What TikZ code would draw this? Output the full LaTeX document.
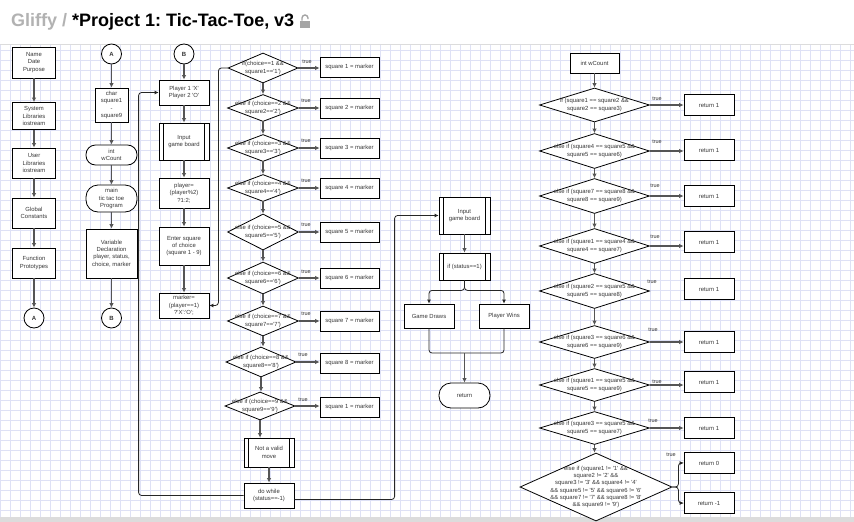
\documentclass[tikz,border=0pt]{standalone}
\usepackage{fontspec}
\newfontfamily\gf{Liberation Sans}
\usetikzlibrary{shapes.geometric,arrows.meta,calc}
\definecolor{gridc}{RGB}{222,225,245}
\definecolor{txt}{RGB}{55,55,55}
\definecolor{arrc}{RGB}{85,85,85}
\definecolor{hdrgray}{RGB}{178,178,178}
\definecolor{sepc}{RGB}{220,220,220}
\definecolor{lockc}{RGB}{165,165,165}
\tikzset{
  base/.style={font=\gf\fontsize{5.9}{7.3}\selectfont, text=txt, inner sep=0pt, align=center},
  bx/.style={base, draw=black, line width=0.8pt, fill=white, rectangle},
  proc/.style={bx, path picture={\draw[line width=0.8pt]
      ([xshift=4.5pt]path picture bounding box.north west) -- ([xshift=4.5pt]path picture bounding box.south west)
      ([xshift=-4.5pt]path picture bounding box.north east) -- ([xshift=-4.5pt]path picture bounding box.south east);}},
  term/.style={bx, rounded corners=9.5pt},
  circ/.style={circle, draw=black, line width=0.8pt, fill=white, minimum size=20pt, inner sep=0pt, font=\gf\bfseries\fontsize{6}{7}\selectfont, text=txt},
  dia/.style={diamond, draw=black, line width=0.8pt, fill=white, inner sep=0pt},
  dtext/.style={base},
  tl/.style={font=\gf\fontsize{5.5}{6.5}\selectfont, text=txt, inner sep=0pt},
  arr/.style={draw=arrc, line width=1.6pt, -{Latex[length=4.5pt,width=4.5pt]}},
  lp/.style={draw=black!85, line width=0.8pt, rounded corners=3pt, -{Latex[length=4pt,width=4pt]}},
}
\frenchspacing
\begin{document}
\begin{tikzpicture}[x=1pt,y=-1pt]
\useasboundingbox (0,0) rectangle (854,522);
\fill[white] (0,0) rectangle (854,522);
% grid
\foreach \gx in {0,10,...,850} \draw[gridc, line width=0.5pt] (\gx,45) -- (\gx,517);
\foreach \gy in {50,60,...,510} \draw[gridc, line width=0.5pt] (0,\gy) -- (854,\gy);
\draw[sepc, line width=1pt] (0,44) -- (854,44);
\fill[sepc] (0,517) rectangle (854,522);
% header
\node[anchor=base west, font=\gf\bfseries\fontsize{18}{20}\selectfont, text=black, inner sep=0pt] (title) at (11,27) {\textcolor{hdrgray}{Gliffy /} *Project 1: Tic-Tac-Toe, v3};
\fill[lockc] (300,20.5) rectangle (310,28);
\draw[lockc, line width=1.4pt] (302,20.5) -- (302,18) arc[start angle=180, end angle=0, radius=3pt] -- (308,19);

% ---------- column 1
\node[bx, minimum width=43pt, minimum height=31pt] (L1) at (34,62.5) {Name\\Date\\Purpose};
\node[bx, minimum width=43pt, minimum height=27pt] (L2) at (34,116) {System\\Libraries\\iostream};
\node[bx, minimum width=43pt, minimum height=30pt] (L3) at (34,163) {User\\Libraries\\iostream};
\node[bx, minimum width=43pt, minimum height=30pt] (L4) at (34,213) {Global\\Constants};
\node[bx, minimum width=43pt, minimum height=30pt] (L5) at (34,263) {Function\\Prototypes};
\node[circ] (A1) at (34,318) {A};
\draw[arr] (L1) -- (L2);
\draw[arr] (L2) -- (L3);
\draw[arr] (L3) -- (L4);
\draw[arr] (L4) -- (L5);
\draw[arr] (L5) -- (A1);

% ---------- column 2
\node[circ] (A2) at (111.5,54) {A};
\node[bx, minimum width=33pt, minimum height=34pt] (C1) at (111.5,105) {char\\square1\\-\\square9};
\node[term, minimum width=51pt, minimum height=20pt] (C2) at (111.5,155) {int\\wCount};
\node[term, rounded corners=12pt, minimum width=51pt, minimum height=27pt] (C3) at (111.5,198.5) {main\\tic tac toe\\Program};
\node[bx, minimum width=51pt, minimum height=49pt] (C4) at (111.5,253.5) {Variable\\Declaration\\player, status,\\choice, marker};
\node[circ] (B1) at (111.5,318) {B};
\draw[arr] (A2) -- (C1);
\draw[arr] (C1) -- (C2);
\draw[arr] (C2) -- (C3);
\draw[arr] (C3) -- (C4);
\draw[arr] (C4) -- (B1);

% ---------- column 3
\node[circ] (B2) at (184,54) {B};
\node[bx, minimum width=50pt, minimum height=25pt] (P1) at (184,92.5) {Player 1 'X'\\Player 2 'O'};
\node[proc, minimum width=50pt, minimum height=37pt] (P2) at (184,141.5) {Input\\game board};
\node[bx, minimum width=50pt, minimum height=30pt] (P3) at (184,193) {player=\\(player\%2)\\?1:2;};
\node[bx, minimum width=50pt, minimum height=38pt] (P4) at (184,246) {Enter square\\of choice\\(square 1 - 9)};
\node[bx, minimum width=50pt, minimum height=25pt] (P5) at (184,305.5) {marker=\\(player==1)\\?'X':'O';};
\draw[arr] (B2) -- (P1);
\draw[arr] (P1) -- (P2);
\draw[arr] (P2) -- (P3);
\draw[arr] (P3) -- (P4);
\draw[arr] (P4) -- (P5);

% ---------- decisions column
\node[dia, minimum width=70pt, minimum height=30pt] (D1) at (263,68) {};
\node[dia, minimum width=71pt, minimum height=27pt] (D2) at (263,108) {};
\node[dia, minimum width=71pt, minimum height=27pt] (D3) at (263,148) {};
\node[dia, minimum width=71pt, minimum height=27pt] (D4) at (263,188) {};
\node[dia, minimum width=71pt, minimum height=36pt] (D5) at (263,232) {};
\node[dia, minimum width=71pt, minimum height=32pt] (D6) at (263,278) {};
\node[dia, minimum width=71pt, minimum height=30pt] (D7) at (263,321) {};
\node[dia, minimum width=70pt, minimum height=30pt] (D8) at (261,362) {};
\node[dia, minimum width=70pt, minimum height=28pt] (D9) at (260,406) {};
\node[dtext] (D1t) at (D1.center) {if(choice==1 \&\&\\square1=='1')};
\node[dtext] (D2t) at (D2.center) {else if (choice==2 \&\&\\square2=='2')};
\node[dtext] (D3t) at (D3.center) {else if (choice==3 \&\&\\square3=='3')};
\node[dtext] (D4t) at (D4.center) {else if (choice==4 \&\&\\square4=='4')};
\node[dtext] (D5t) at (D5.center) {else if (choice==5 \&\&\\square5=='5')};
\node[dtext] (D6t) at (D6.center) {else if (choice==6 \&\&\\square6=='6')};
\node[dtext] (D7t) at (D7.center) {else if (choice==7 \&\&\\square7=='7')};
\node[dtext] (D8t) at (D8.center) {else if (choice==8 \&\&\\square8=='8')};
\node[dtext] (D9t) at (D9.center) {else if (choice==9 \&\&\\square9=='9')};

\node[bx, minimum width=59pt, minimum height=20pt] (S1) at (349.5,67) {square 1 = marker};
\node[bx, minimum width=59pt, minimum height=20pt] (S2) at (349.5,108) {square 2 = marker};
\node[bx, minimum width=59pt, minimum height=20pt] (S3) at (349.5,148) {square 3 = marker};
\node[bx, minimum width=59pt, minimum height=20pt] (S4) at (349.5,188) {square 4 = marker};
\node[bx, minimum width=59pt, minimum height=20pt] (S5) at (349.5,232) {square 5 = marker};
\node[bx, minimum width=59pt, minimum height=20pt] (S6) at (349.5,278) {square 6 = marker};
\node[bx, minimum width=59pt, minimum height=20pt] (S7) at (349.5,321) {square 7 = marker};
\node[bx, minimum width=59pt, minimum height=20pt] (S8) at (349.5,363) {square 8 = marker};
\node[bx, minimum width=59pt, minimum height=20pt] (S9) at (349.5,407) {square 1 = marker};

\foreach \k in {1,...,9} \draw[arr] (D\k.east) -- (D\k.east -| S\k.west);
\node[tl] (T1) at (307,62) {true};
\node[tl] (T2) at (306,101) {true};
\node[tl] (T3) at (306,141) {true};
\node[tl] (T4) at (306,181) {true};
\node[tl] (T5) at (306,225) {true};
\node[tl] (T6) at (306,272) {true};
\node[tl] (T7) at (306,314) {true};
\node[tl] (T8) at (303,355) {true};
\node[tl] (T9) at (303,400) {true};

\draw[arr] (D1.south) -- (D1.south |- D2.north);
\draw[arr] (D2.south) -- (D2.south |- D3.north);
\draw[arr] (D3.south) -- (D3.south |- D4.north);
\draw[arr] (D4.south) -- (D4.south |- D5.north);
\draw[arr] (D5.south) -- (D5.south |- D6.north);
\draw[arr] (D6.south) -- (D6.south |- D7.north);
\draw[arr] (D7.south) -- (D7.south |- D8.north);
\draw[arr] (D8.south) -- (D8.south |- D9.north);

\node[proc, minimum width=50pt, minimum height=29pt] (NV) at (269,452.5) {Not a valid\\move};
\node[bx, minimum width=50pt, minimum height=25pt] (DW) at (269,495.5) {do while\\(status==-1)};
\draw[arr] (D9.south) -- (D9.south |- NV.north);
\draw[arr] (NV) -- (DW);

% loops
\draw[lp] (D1.west) -| ($(P5.east)+(9,0)$) -- (P5.east);
\draw[lp] (DW.west) -| ($(P1.west)+(-20,0)$) -- (P1.west);

% ---------- middle
\node[proc, minimum width=51pt, minimum height=37pt] (IG) at (464.5,215.5) {Input\\game board};
\node[proc, minimum width=51pt, minimum height=27pt] (ST) at (464.5,266.5) {if (status==1)};
\node[bx, minimum width=50pt, minimum height=24pt] (GD) at (429,316) {Game Draws};
\node[bx, minimum width=50pt, minimum height=24pt] (PW) at (504,316) {Player Wins};
\node[term, rounded corners=12pt, minimum width=51pt, minimum height=25pt] (RET) at (464.5,395.5) {return};
\draw[lp] ($(DW.east)+(0,4)$) -| ($(IG.west)+(-44,0)$) -- (IG.west);
\draw[arr] (IG) -- (ST);
\draw[lp] (ST.south) -- ++(0,10) -| (GD.north);
\draw[lp] (ST.south) -- ++(0,10) -| (PW.north);
\coordinate (MG) at (464.5,353);
\draw[lp, -] (GD.south) |- (MG);
\draw[lp, -] (PW.south) |- (MG);
\draw[arr] (MG) -- (RET.north);

% ---------- right column
\node[bx, minimum width=49pt, minimum height=20pt] (WC) at (594.5,63) {int wCount};
\node[dia, minimum width=110pt, minimum height=34pt] (R1) at (594.5,105) {};
\node[dia, minimum width=110pt, minimum height=35pt] (R2) at (594.5,151) {};
\node[dia, minimum width=110pt, minimum height=35pt] (R3) at (594.5,196) {};
\node[dia, minimum width=110pt, minimum height=35pt] (R4) at (594.5,246) {};
\node[dia, minimum width=110pt, minimum height=35pt] (R5) at (594.5,291) {};
\node[dia, minimum width=110pt, minimum height=33pt] (R6) at (594.5,342) {};
\node[dia, minimum width=110pt, minimum height=33pt] (R7) at (594.5,385) {};
\node[dia, minimum width=110pt, minimum height=33pt] (R8) at (594.5,428) {};
\node[dia, minimum width=152pt, minimum height=68pt] (R9) at (596,487) {};
\node[dtext] (R1t) at (R1.center) {if (square1 == square2 \&\&\\square2 == square3)};
\node[dtext] (R2t) at (R2.center) {else if (square4 == square5 \&\&\\square5 == square6)};
\node[dtext] (R3t) at (R3.center) {else if (square7 == square8 \&\&\\square8 == square9)};
\node[dtext] (R4t) at (R4.center) {else if (square1 == square4 \&\&\\square4 == square7)};
\node[dtext] (R5t) at (R5.center) {else if (square2 == square5 \&\&\\square5 == square8)};
\node[dtext] (R6t) at (R6.center) {else if (square3 == square6 \&\&\\square6 == square9)};
\node[dtext] (R7t) at (R7.center) {else if (square1 == square5 \&\&\\square5 == square9)};
\node[dtext] (R8t) at (R8.center) {else if (square3 == square5 \&\&\\square5 == square7)};
\node[dtext] (R9t) at (R9.center) {else if (square1 != '1' \&\&\\square2 != '2' \&\&\\square3 != '3' \&\& square4 != '4'\\\&\& square5 != '5' \&\& square6 != '6'\\\&\& square7 != '7' \&\& square8 != '8'\\\&\& square9 != '9')};

\node[bx, minimum width=50pt, minimum height=21pt] (E1) at (709,105) {return 1};
\node[bx, minimum width=50pt, minimum height=21pt] (E2) at (709,150) {return 1};
\node[bx, minimum width=50pt, minimum height=21pt] (E3) at (709,196) {return 1};
\node[bx, minimum width=50pt, minimum height=21pt] (E4) at (709,242) {return 1};
\node[bx, minimum width=50pt, minimum height=21pt] (E5) at (709,289) {return 1};
\node[bx, minimum width=50pt, minimum height=21pt] (E6) at (709,342) {return 1};
\node[bx, minimum width=50pt, minimum height=21pt] (E7) at (709,382) {return 1};
\node[bx, minimum width=50pt, minimum height=21pt] (E8) at (709,428) {return 1};
\node[bx, minimum width=50pt, minimum height=21pt] (E0) at (709,463) {return 0};
\node[bx, minimum width=50pt, minimum height=21pt] (EM) at (709,503) {return -1};

\draw[arr] (WC) -- (R1.north);
\draw[arr] (R1.south) -- (R2.north);
\draw[arr] (R2.south) -- (R3.north);
\draw[arr] (R3.south) -- (R4.north);
\draw[arr] (R4.south) -- (R5.north);
\draw[arr] (R5.south) -- (R6.north);
\draw[arr] (R6.south) -- (R7.north);
\draw[arr] (R7.south) -- (R8.north);
\draw[arr] (R8.south) -- (R8.south |- R9.north);
\foreach \k in {1,2,3,4,6,7,8} \draw[arr] (R\k.east) -- (R\k.east -| E\k.west);
\draw[lp] (R9.east) -- ++(6,0) |- (E0.west);
\draw[lp] (R9.east) -- ++(6,0) |- (EM.west);

\node[tl] (U1) at (657,99) {true};
\node[tl] (U2) at (657,142) {true};
\node[tl] (U3) at (655,186) {true};
\node[tl] (U4) at (655,237) {true};
\node[tl] (U5) at (652,282) {true};
\node[tl] (U6) at (653,330) {true};
\node[tl] (U7) at (657,382) {true};
\node[tl] (U8) at (653,421) {true};
\node[tl] (U9) at (671,455) {true};
\end{tikzpicture}
\end{document}
